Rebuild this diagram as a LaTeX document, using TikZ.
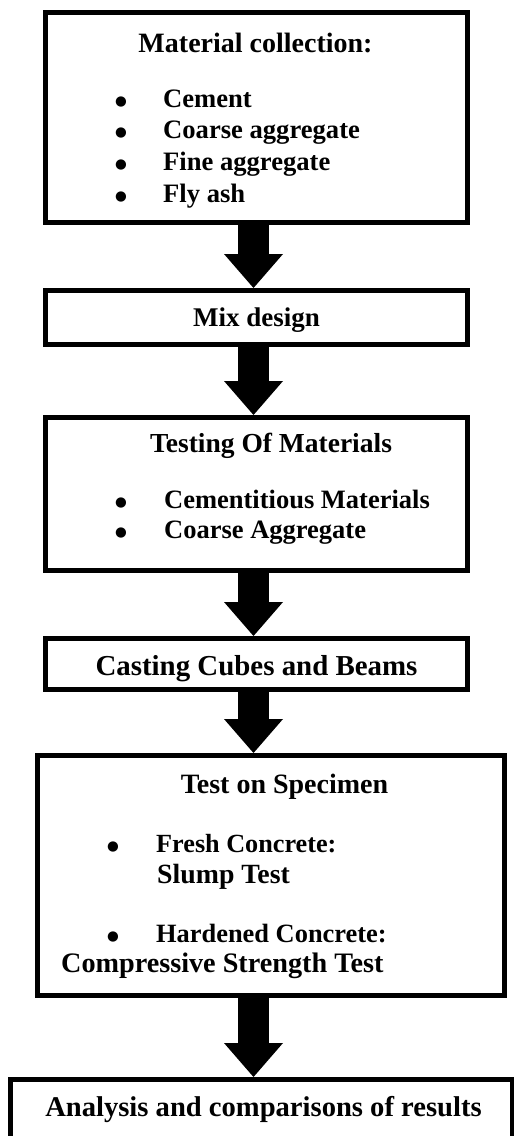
\documentclass[tikz,border=0pt]{standalone}
\usepackage{fontspec}
\setmainfont{Liberation Serif}
\newfontfamily\dotfont{DejaVu Sans}
\usetikzlibrary{arrows.meta}

\tikzset{
  box/.style={draw, line width=5pt, inner sep=0pt},
  head/.style={font=\fontsize{#1}{#1}\selectfont\bfseries, inner sep=0pt, anchor=base},
  head/.default=28pt,
  item/.style={font=\fontsize{#1}{#1}\selectfont\bfseries, inner sep=0pt, anchor=base west},
  item/.default=26.6pt,
  bullet/.style={font=\dotfont\fontsize{13.5pt}{13.5pt}\selectfont, inner sep=0pt, anchor=base, yshift=2pt},
  flow/.style={line width=31pt, -{Triangle[width=59pt, length=34pt, line width=0pt]}},
}

\begin{document}
\begin{tikzpicture}[x=1pt, y=-1pt]
    \useasboundingbox (0,0) rectangle (514,1136);
    \coordinate (axis) at (253.5,0);

    % the six steps
    \node[box, minimum width=422pt, minimum height=210pt] (collect) at (256.5,117.5) {};
    \node[box, minimum width=422pt, minimum height=54pt] (mix) at (256.5,317.5) {};
    \node[box, minimum width=422pt, minimum height=153pt] (testing) at (256.5,494) {};
    \node[box, minimum width=422pt, minimum height=51pt] (casting) at (256.5,664) {};
    \node[box, minimum width=467pt, minimum height=240pt] (specimen) at (271,875.5) {};
    \node[box, minimum width=502pt, minimum height=98pt] (results) at (261.5,1128.5) {};

    % arrows between steps
    \draw[flow] (collect.south -| axis) -- (mix.north -| axis);
    \draw[flow] (mix.south -| axis) -- (testing.north -| axis);
    \draw[flow] (testing.south -| axis) -- (casting.north -| axis);
    \draw[flow] (casting.south -| axis) -- (specimen.north -| axis);
    \draw[flow] (specimen.south -| axis) -- (results.north -| axis);

    % texts
    \node[head] (collect-title) at (255.5,52) {Material collection:};
    \foreach \txt [count=\i] in {Cement, Coarse aggregate, Fine aggregate, Fly ash} {
        \node[bullet] (collect-dot-\i) at (121,75.3+31.7*\i) {●};
        \node[item] (collect-\i) at (163,75.3+31.7*\i) {\txt};
    }
    \node[head=27pt] (mix-title) at (256.5,326) {Mix design};
    \node[head=27.5pt] (testing-title) at (271,452) {Testing Of Materials};
    \foreach \txt [count=\i] in {Cementitious Materials, Coarse Aggregate} {
        \node[bullet] (testing-dot-\i) at (121,478+30*\i) {●};
        \node[item=26.5pt] (testing-\i) at (164,478+30*\i) {\txt};
    }
    \node[head=28.9pt] (casting-title) at (256.5,675) {Casting Cubes and Beams};
    \node[head] (specimen-title) at (284.5,793) {Test on Specimen};
    \node[bullet] (specimen-dot-1) at (113,852) {●};
    \node[item=26.2pt] (fresh) at (156,852) {Fresh Concrete:};
    \node[item=27.8pt] (slump) at (157,883) {Slump Test};
    \node[bullet] (specimen-dot-2) at (113,942) {●};
    \node[item=26.4pt] (hardened) at (156,942) {Hardened Concrete:};
    \node[item=28.2pt] (compressive) at (61,972) {Compressive Strength Test};
    \node[head=28.6pt] (results-title) at (263.5,1116) {Analysis and comparisons of results};
\end{tikzpicture}
\end{document}
